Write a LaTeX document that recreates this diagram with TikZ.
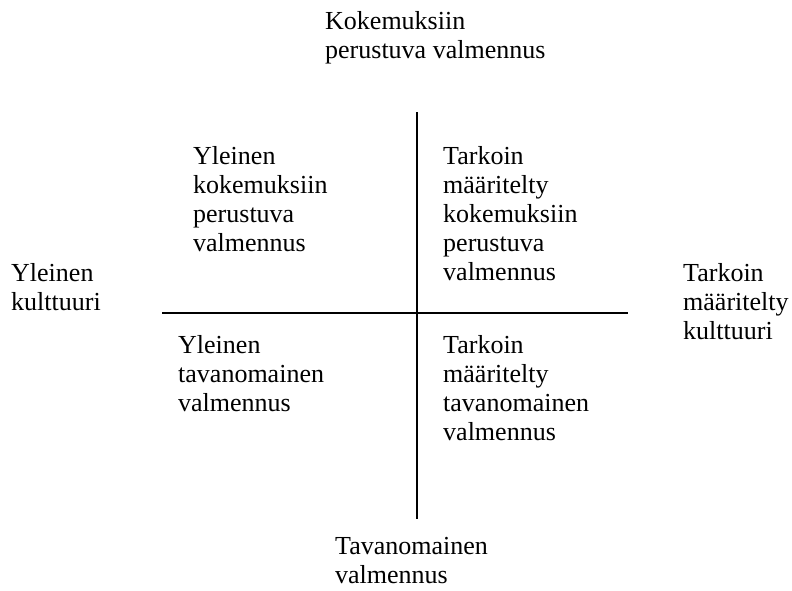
\documentclass[tikz,border=0pt]{standalone}
\usepackage{fontspec}
\setmainfont{Liberation Serif}
\begin{document}
\begin{tikzpicture}[x=1pt,y=-1pt,
  lbl/.style={anchor=base west,inner sep=0pt,align=left,
    font=\fontsize{26}{29}\selectfont},
  axis/.style={line width=2pt,black}]
\useasboundingbox (0,0) rectangle (792,590);
% axes
\coordinate (vt) at (417,112);
\coordinate (vb) at (417,519);
\coordinate (hl) at (162,313);
\coordinate (hr) at (628,313);
\draw[axis] (vt) -- (vb);
\draw[axis] (hl) -- (hr);
% axis end labels (placed by the baseline of their last line)
\node[lbl] (top) at (325,58) {Kokemuksiin\\perustuva valmennus};
\node[lbl] (bottom) at (335,583) {Tavanomainen\\valmennus};
\node[lbl] (left) at (11,310) {Yleinen\\kulttuuri};
\node[lbl] (right) at (683,339) {Tarkoin\\määritelty\\kulttuuri};
% quadrant labels
\node[lbl] (q1) at (193,251) {Yleinen\\kokemuksiin\\perustuva\\valmennus};
\node[lbl] (q2) at (443,280) {Tarkoin\\määritelty\\kokemuksiin\\perustuva\\valmennus};
\node[lbl] (q3) at (178,411) {Yleinen\\tavanomainen\\valmennus};
\node[lbl] (q4) at (443,440) {Tarkoin\\määritelty\\tavanomainen\\valmennus};
\end{tikzpicture}
\end{document}
